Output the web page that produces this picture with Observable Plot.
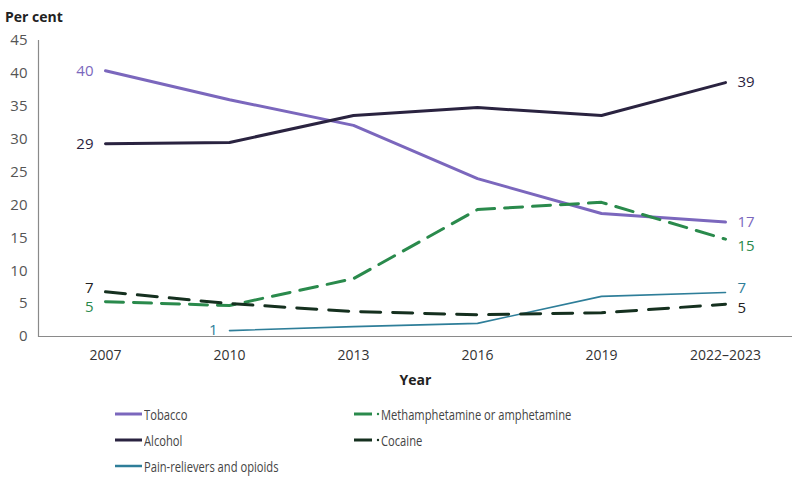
<!DOCTYPE html>
<html>
<head>
<meta charset="utf-8">
<script src="https://cdn.jsdelivr.net/npm/d3@7"></script>
<script src="https://cdn.jsdelivr.net/npm/@observablehq/plot@0.6"></script>
<style>
  body { margin: 0; background: #fff; font-family: "Open Sans", sans-serif; }
  #title { height: 30px; font-size: 14px; font-weight: 700; color: #222; padding-left: 5px; line-height: 34px; }
  #legend { position: relative; height: 85px; font-family: "Open Sans", sans-serif; font-size: 15px; color: #444; }
  .item { position: absolute; display: flex; align-items: center; height: 20px; }
  .item span { display: inline-block; transform: scaleX(0.745); transform-origin: left center; white-space: nowrap; }
</style>
</head>
<body>
<div id="title">Per cent</div>
<div id="chart"></div>
<div id="legend"></div>
<script>
const years = ["2007", "2010", "2013", "2016", "2019", "2022–2023"];
const tobacco = [40.4, 36.0, 32.1, 24.0, 18.7, 17.4];
const alcohol = [29.3, 29.5, 33.6, 34.8, 33.6, 38.6];
const meth = [5.3, 4.7, 8.8, 19.3, 20.4, 14.8];
const cocaine = [6.8, 5.0, 3.8, 3.3, 3.6, 4.9];
const pain = [null, 0.9, 1.5, 2.0, 6.1, 6.7];
const yTicks = [0, 5, 10, 15, 20, 25, 30, 35, 40, 45];

const series = [
  {name: "Tobacco", values: tobacco, color: "#7b67bd", label: "#7b67bd", width: 3, dash: null, first: "40", last: "17", dyF: 0, dyL: 0},
  {name: "Alcohol", values: alcohol, color: "#2a2340", label: "#2a2340", width: 3, dash: null, first: "29", last: "39", dyF: 0, dyL: 0},
  {name: "Pain-relievers and opioids", values: pain, color: "#2e7e99", label: "#2e7e99", width: 1.6, dash: null, first: "1", last: "7", dyF: 0, dyL: -4},
  {name: "Methamphetamine or amphetamine", values: meth, color: "#2a8a4c", label: "#2a8a4c", width: 3, dash: "18,10", first: "5", last: "15", dyF: 6, dyL: 7},
  {name: "Cocaine", values: cocaine, color: "#15301f", label: "#222", width: 3, dash: "20,12", first: "7", last: "5", dyF: -4, dyL: 4}
];

const rows = s => years.map((y, i) => ({year: y, value: s.values[i]})).filter(d => d.value != null);

const marks = [
  Plot.ruleY([0], {stroke: "#8a8a8a", strokeWidth: 1.2}),
  Plot.frame({anchor: "left", stroke: "#8a8a8a", strokeWidth: 1.2}),
  Plot.axisY({ticks: yTicks, tickSize: 0, tickPadding: 11, label: null, fontSize: 15, color: "#555", textStroke: "none"}),
  Plot.axisX({tickSize: 0, tickPadding: 14, label: null, fontSize: 14, color: "#333"}),
  Plot.text(["Year"], {frameAnchor: "bottom", dy: 48, fontSize: 14, fontWeight: "bold", fill: "#222"})
];
for (const s of series) {
  marks.push(Plot.line(rows(s), {x: "year", y: "value", stroke: s.color, strokeWidth: s.width, strokeDasharray: s.dash}));
}
for (const s of series) {
  const r = rows(s);
  const f = r[0], l = r[r.length - 1];
  marks.push(Plot.text([f], {x: "year", y: "value", text: () => s.first, textAnchor: "end", dx: -12, dy: s.dyF, fill: s.label, fontSize: 15, fontWeight: 400}));
  marks.push(Plot.text([l], {x: "year", y: "value", text: () => s.last, textAnchor: "start", dx: 12, dy: s.dyL, fill: s.label, fontSize: 15, fontWeight: 400}));
}
const chart = Plot.plot({
  width: 798,
  height: 366,
  marginTop: 10,
  marginBottom: 60,
  marginLeft: 38,
  marginRight: 6,
  style: {fontFamily: "'Open Sans', sans-serif", background: "white"},
  x: {type: "point", domain: years, padding: 0.52, axis: null},
  y: {domain: [0, 45], axis: null},
  marks
});
document.getElementById("chart").appendChild(chart);

const legendPos = [
  {s: series[0], x: 115, y: 404, dot: false},
  {s: series[1], x: 115, y: 430, dot: false},
  {s: series[2], x: 115, y: 456, dot: false},
  {s: series[3], x: 354, y: 404, dot: true},
  {s: series[4], x: 354, y: 430, dot: true}
];
const legend = document.getElementById("legend");
for (const p of legendPos) {
  const div = document.createElement("div");
  div.className = "item";
  div.style.left = p.x + "px";
  div.style.top = (p.y - 396) + "px";
  const sw = p.dot ? 18 : 27;
  div.innerHTML = `<svg width="${p.dot ? 27 : 29}" height="20"><line x1="0" x2="${sw}" y1="10" y2="10" stroke="${p.s.color}" stroke-width="${p.s.name.startsWith('Pain') ? 2.5 : 3}"/>${p.dot ? `<circle cx="24" cy="10" r="1.2" fill="${p.s.color}"/>` : ""}</svg><span>${p.s.name}</span>`;
  legend.appendChild(div);
}
</script>
</body>
</html>
